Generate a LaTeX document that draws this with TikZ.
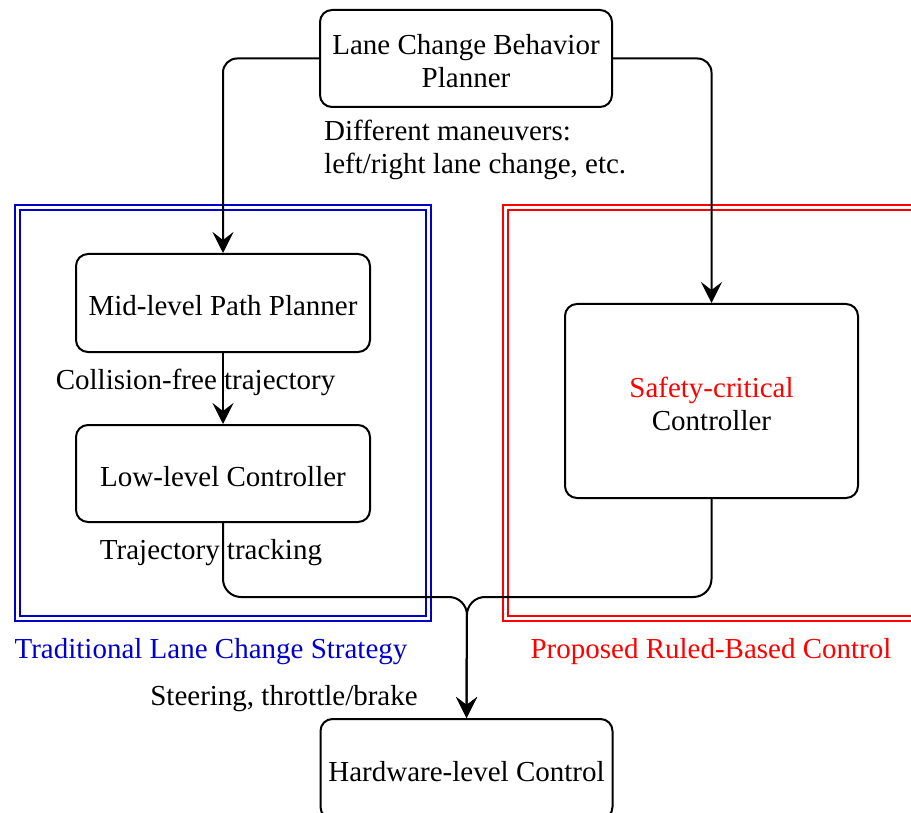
\documentclass[tikz,border=0pt]{standalone}
\usepackage{fontspec}
\setmainfont{Liberation Serif}
\usetikzlibrary{arrows.meta}
\definecolor{tblue}{RGB}{0,0,204}
\definecolor{tred}{RGB}{255,0,0}
\begin{document}
\begin{tikzpicture}[x=1pt,y=-1pt,
  every node/.style={font=\fontsize{29}{33}\selectfont},
  box/.style={draw=black, line width=2pt, rounded corners=12pt, inner sep=0pt},
  boxtext/.style={inner sep=0pt, align=center, yshift=-3pt},
  lbl/.style={inner sep=0pt, align=left},
  conn/.style={draw=black, line width=2pt, -{Stealth[length=21pt,width=21pt,inset=8pt]}},
  dbl/.style={line width=2pt, double=white, double distance=3pt}]
\useasboundingbox (0,0) rectangle (911,813);
% group frames
\draw[dbl, draw=tblue] (17,208) rectangle (428,618);
\draw[dbl, draw=tred] (505.5,208) rectangle (930,618);
% boxes
\node[box, minimum width=292pt, minimum height=97pt] (top) at (466,58.5) {};
\node[box, minimum width=294pt, minimum height=98pt] (mid) at (223,303) {};
\node[box, minimum width=294pt, minimum height=97pt] (low) at (223,473.5) {};
\node[box, minimum width=293pt, minimum height=194pt] (safe) at (711.5,401) {};
\node[box, minimum width=292pt, minimum height=100pt] (hw) at (466.5,769) {};
\node[boxtext] (toptxt) at (top) {Lane Change Behavior\\Planner};
\node[boxtext] (midtxt) at (mid) {Mid-level Path Planner};
\node[boxtext] (lowtxt) at (low) {Low-level Controller};
\node[boxtext] (safetxt) at (safe) {\textcolor{tred}{Safety-critical}\\Controller};
\node[boxtext] (hwtxt) at (hw) {Hardware-level Control};
\coordinate (bus) at (467,597);
% connectors
\draw[conn, rounded corners=14pt] (top.west) -| (mid.north);
\draw[conn, rounded corners=14pt] (top.east) -| (safe.north);
\draw[conn] (mid.south) -- (low.north);
\draw[conn, rounded corners=18pt] (low.south) |- (bus) -- (hw.north);
\draw[conn, rounded corners=18pt] (safe.south) |- (bus) -- (hw.north);
% labels
\node[lbl, anchor=west] (lman) at (324,150) {Different maneuvers:\\left/right lane change, etc.};
\node[lbl] (lcol) at (195.5,382) {Collision-free trajectory};
\node[lbl] (ltrk) at (211,553) {Trajectory tracking};
\node[lbl] (lstr) at (284,699) {Steering, throttle/brake};
\node[lbl, text=tblue] (ltrad) at (211,652) {Traditional Lane Change Strategy};
\node[lbl, text=tred] (lprop) at (711,652) {Proposed Ruled-Based Control};
\end{tikzpicture}
\end{document}
